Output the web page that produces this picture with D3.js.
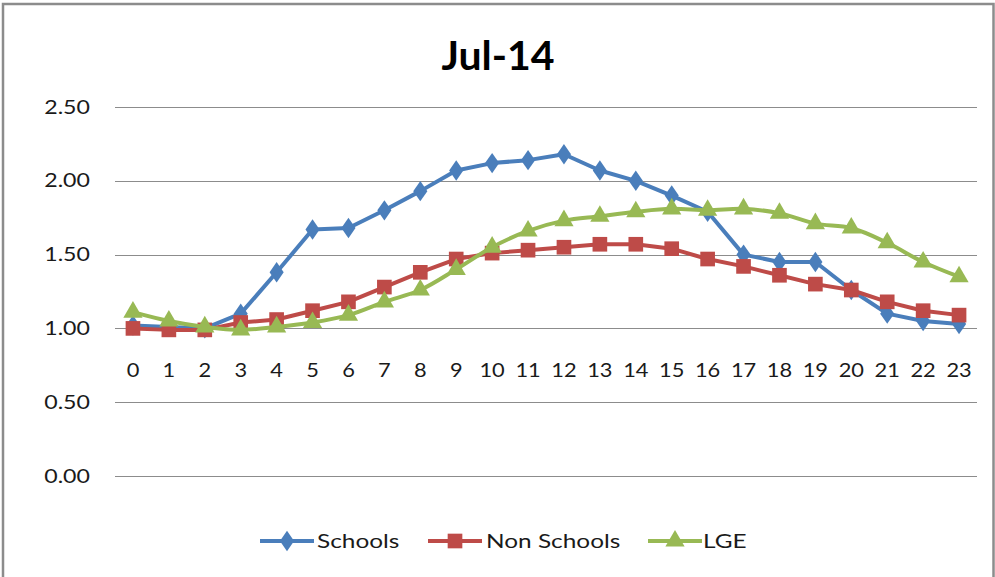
<!DOCTYPE html>
<html><head><meta charset="utf-8">
<script src="https://cdn.jsdelivr.net/npm/d3@7"></script>
<style>
html,body{margin:0;padding:0;background:#fff;}
svg{display:block;}
text{font-family:Lato,"Open Sans",sans-serif;fill:#1a1a1a;}
</style></head>
<body>
<svg id="chart" width="995" height="577"></svg>
<script>
const title = "Jul-14";
const hours = ["0","1","2","3","4","5","6","7","8","9","10","11","12","13","14","15","16","17","18","19","20","21","22","23"];
const seriesNames = ["Schools", "Non Schools", "LGE"];
const schools = [1.02,1.01,1.00,1.10,1.38,1.67,1.68,1.80,1.93,2.07,2.12,2.14,2.18,2.07,2.00,1.90,1.79,1.50,1.45,1.45,1.26,1.10,1.05,1.03];
const nonSchools = [1.00,0.99,0.99,1.04,1.06,1.12,1.18,1.28,1.38,1.47,1.51,1.53,1.55,1.57,1.57,1.54,1.47,1.42,1.36,1.30,1.26,1.18,1.12,1.09];
const lge = [1.11,1.05,1.01,0.99,1.01,1.04,1.09,1.18,1.26,1.40,1.55,1.66,1.73,1.76,1.79,1.81,1.80,1.81,1.78,1.71,1.68,1.58,1.45,1.35];
const yTicks = [0, 0.5, 1.0, 1.5, 2.0, 2.5];
const xAxisCross = 0.8;

const colors = ["#4a7ebb", "#be4b48", "#98b954"];
const symbols = [d3.symbolDiamond, d3.symbolSquare, d3.symbolTriangle];
const symSizes = [120, 215, 160];
const stretch = 1.22;

const svg = d3.select("#chart");
// outer frame
svg.append("rect").attr("x",3).attr("y",4).attr("width",990.5).attr("height",600)
  .attr("fill","none").attr("stroke","#8c8c8c").attr("stroke-width",2.5);

const pLeft = 115, pRight = 977, pTop = 107, pBottom = 476;
const x = d3.scaleBand().domain(hours).range([pLeft, pRight]);
const y = d3.scaleLinear().domain([0, 2.5]).range([pBottom, pTop]);

// title
svg.append("text").attr("x", 498).attr("y", 70).attr("text-anchor","middle")
  .style("font-size","41px").style("font-weight","bold").style("fill","#000").text(title);

// gridlines
svg.append("g").selectAll("line").data(yTicks).join("line")
  .attr("x1", pLeft).attr("x2", pRight)
  .attr("y1", d => Math.round(y(d))+0.5).attr("y2", d => Math.round(y(d))+0.5)
  .attr("stroke","#8c8c8c").attr("stroke-width",1.2);

// y axis
const yAxis = svg.append("g").attr("transform", `translate(${pLeft-25},0)`)
  .call(d3.axisLeft(y).tickValues(yTicks).tickFormat(d3.format(".2f")).tickSize(0).tickPadding(0));
yAxis.select(".domain").remove();
yAxis.selectAll("text").style("font-size","19px").style("font-family","Lato,sans-serif")
  .attr("fill","#1a1a1a").attr("transform", `scale(${stretch},1)`);

// x axis (labels only)
const xAxis = svg.append("g").attr("transform", `translate(0,${y(xAxisCross)})`)
  .call(d3.axisBottom(x).tickSize(0).tickPadding(5));
xAxis.select(".domain").remove();
xAxis.selectAll("text").style("font-size","19.5px").style("font-family","Lato,sans-serif")
  .attr("fill","#1a1a1a").attr("transform", `scale(1.12,1)`);

const data = [schools, nonSchools, lge];
const curves = [d3.curveLinear, d3.curveLinear, d3.curveCatmullRom.alpha(0.5)];
const cx = i => x(hours[i]) + x.bandwidth()/2;

data.forEach((vals, s) => {
  const line = d3.line().x((d,i) => cx(i)).y(d => y(d)).curve(curves[s]);
  svg.append("path").datum(vals).attr("d", line)
    .attr("fill","none").attr("stroke", colors[s]).attr("stroke-width",4)
    .attr("stroke-linejoin","round").attr("stroke-linecap","round");
  svg.append("g").selectAll("path").data(vals).join("path")
    .attr("d", d3.symbol().type(symbols[s]).size(symSizes[s]))
    .attr("transform", (d,i) => `translate(${cx(i)},${y(d)})` + (s===0 ? " scale(1.2,1)" : ""))
    .attr("fill", colors[s]);
});

// legend
const legendItems = [
  {lx: 260, tx: 317},
  {lx: 428, tx: 486},
  {lx: 648, tx: 703}
];
const ly = 541;
legendItems.forEach((it, s) => {
  svg.append("line").attr("x1", it.lx).attr("x2", it.lx+54).attr("y1", ly).attr("y2", ly)
    .attr("stroke", colors[s]).attr("stroke-width",4);
  svg.append("path").attr("d", d3.symbol().type(symbols[s]).size(symSizes[s]))
    .attr("transform", `translate(${it.lx+27},${ly})` + (s===0 ? " scale(1.2,1)" : ""))
    .attr("fill", colors[s]);
  svg.append("text").attr("transform", `translate(${it.tx},${ly}) scale(${stretch},1)`)
    .attr("dy","0.36em").style("font-size","20px").text(seriesNames[s]);
});
</script>
</body></html>
